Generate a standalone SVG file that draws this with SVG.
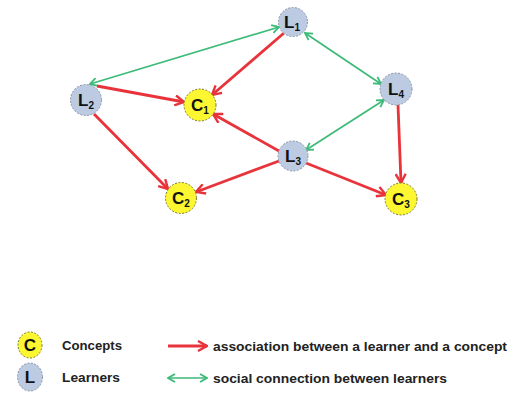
<svg xmlns="http://www.w3.org/2000/svg" width="515" height="396" viewBox="0 0 515 396">
<defs>
<style>
.bg{fill:#ffffff}
.red{stroke:#e8333b;stroke-width:2.8;fill:none}
.grn{stroke:#3dba78;stroke-width:1.7;fill:none}
.lrn{fill:#bccbe2;stroke:#8a96a8;stroke-width:1;stroke-dasharray:2 1.5}
.cpt{fill:#fdf731;stroke:#7a7a3a;stroke-width:1;stroke-dasharray:2 1.5}
.lbl{font-family:"Liberation Sans",Arial,sans-serif;font-weight:bold;font-size:17px;fill:#111;text-anchor:middle}
.sub{font-size:10px}
.leg{font-family:"Liberation Sans",Arial,sans-serif;font-weight:bold;font-size:12px;fill:#222}
</style>
<marker id="ar" viewBox="0 0 12 12" refX="11" refY="6" markerWidth="12" markerHeight="12" markerUnits="userSpaceOnUse" orient="auto">
<path d="M2,1 L11,6 L2,11" fill="none" stroke="#e8333b" stroke-width="2.4"/>
</marker>
<marker id="ag" viewBox="0 0 10 10" refX="9" refY="5" markerWidth="10" markerHeight="10" markerUnits="userSpaceOnUse" orient="auto-start-reverse">
<path d="M2,1 L9,5 L2,9" fill="none" stroke="#3dba78" stroke-width="1.8"/>
</marker>
</defs>
<rect class="bg" x="0" y="0" width="515" height="396"/>
<g id="connectors">
<line class="grn" x1="279" y1="27" x2="90" y2="84" marker-start="url(#ag)" marker-end="url(#ag)"/>
<line class="grn" x1="305" y1="33" x2="381" y2="84" marker-start="url(#ag)" marker-end="url(#ag)"/>
<line class="grn" x1="384" y1="100" x2="306" y2="150" marker-start="url(#ag)" marker-end="url(#ag)"/>
<line class="red" x1="284" y1="33" x2="212" y2="95" marker-end="url(#ar)"/>
<line class="red" x1="97" y1="86" x2="184" y2="102" marker-end="url(#ar)"/>
<line class="red" x1="94" y1="114" x2="168" y2="189" marker-end="url(#ar)"/>
<line class="red" x1="279" y1="151" x2="213" y2="114" marker-end="url(#ar)"/>
<line class="red" x1="279" y1="161" x2="196" y2="192" marker-end="url(#ar)"/>
<line class="red" x1="306" y1="163" x2="386" y2="195" marker-end="url(#ar)"/>
<line class="red" x1="398" y1="105" x2="401" y2="183" marker-end="url(#ar)"/>
</g>
<g id="L1"><circle class="lrn" cx="293" cy="22" r="14.5"/><text class="lbl" x="292" y="28">L<tspan class="sub" dy="3">1</tspan></text></g>
<g id="L2"><circle class="lrn" cx="86" cy="100" r="15.5"/><text class="lbl" x="86" y="106">L<tspan class="sub" dy="3">2</tspan></text></g>
<g id="C1"><circle class="cpt" cx="200" cy="105" r="16"/><text class="lbl" x="200" y="111">C<tspan class="sub" dy="3">1</tspan></text></g>
<g id="L4"><circle class="lrn" cx="396" cy="89" r="16"/><text class="lbl" x="396" y="95">L<tspan class="sub" dy="3">4</tspan></text></g>
<g id="L3"><circle class="lrn" cx="293" cy="156" r="15"/><text class="lbl" x="293" y="162">L<tspan class="sub" dy="3">3</tspan></text></g>
<g id="C2"><circle class="cpt" cx="181" cy="198" r="15.5"/><text class="lbl" x="181" y="204">C<tspan class="sub" dy="3">2</tspan></text></g>
<g id="C3"><circle class="cpt" cx="401" cy="199" r="16"/><text class="lbl" x="401" y="205">C<tspan class="sub" dy="3">3</tspan></text></g>
<g id="legend">
<ellipse class="cpt" cx="30" cy="345" rx="12" ry="13"/>
<text class="lbl" x="30" y="351" style="font-size:17px">C</text>
<ellipse class="lrn" cx="30" cy="377" rx="12.5" ry="14"/>
<text class="lbl" x="30" y="383" style="font-size:17px">L</text>
<text class="leg" x="62" y="350" textLength="60" lengthAdjust="spacingAndGlyphs">Concepts</text>
<text class="leg" x="62" y="382" textLength="58" lengthAdjust="spacingAndGlyphs">Learners</text>
<line class="red" x1="168" y1="346" x2="207" y2="346" marker-end="url(#ar)"/>
<line class="grn" x1="168" y1="378" x2="207" y2="378" marker-start="url(#ag)" marker-end="url(#ag)"/>
<text class="leg" x="213" y="351" textLength="294" lengthAdjust="spacingAndGlyphs">association between a learner and a concept</text>
<text class="leg" x="213" y="383" textLength="234" lengthAdjust="spacingAndGlyphs">social connection between learners</text>
</g>
</svg>
